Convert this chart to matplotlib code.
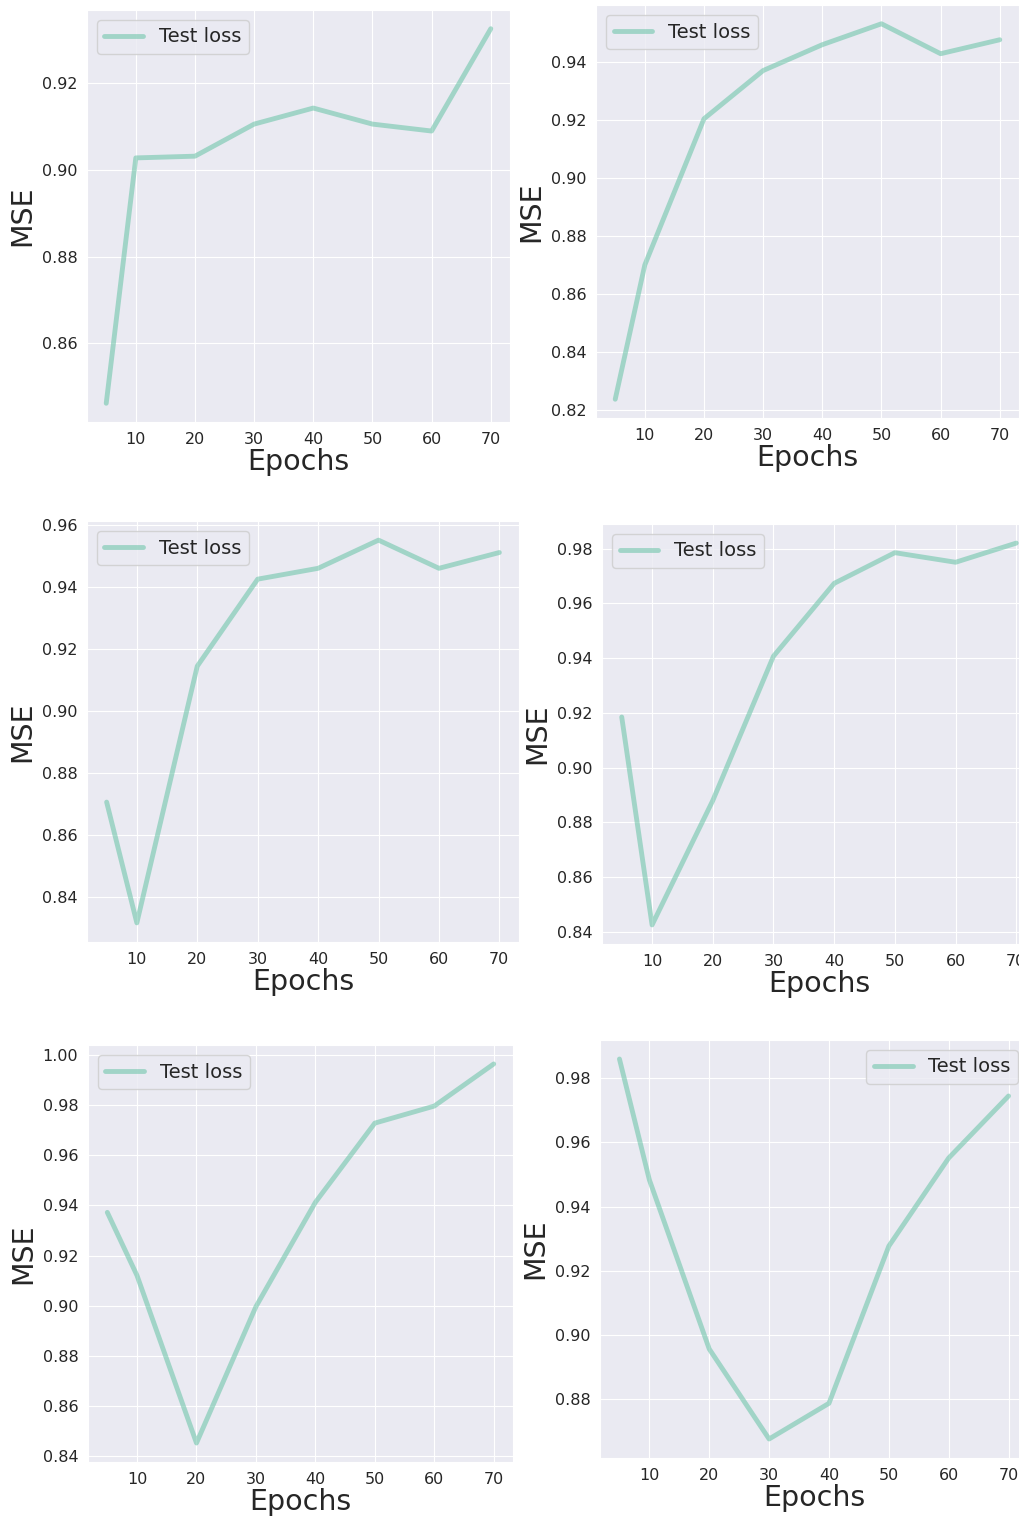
import matplotlib
matplotlib.use("Agg")
import matplotlib.pyplot as plt
import seaborn as sns

sns.set_style("darkgrid")
plt.rcParams['font.family'] = ['DejaVu Sans']

epochs = [5, 10, 20, 30, 40, 50, 60, 70]

loss_a = [0.8462, 0.9028, 0.9032, 0.9106, 0.9143, 0.9106, 0.9090, 0.9326]
loss_b = [0.8238, 0.8700, 0.9203, 0.9369, 0.9458, 0.9530, 0.9427, 0.9475]
loss_c = [0.8706, 0.8316, 0.9145, 0.9426, 0.9461, 0.9552, 0.9461, 0.9512]
loss_d = [0.9185, 0.8426, 0.8880, 0.9407, 0.9673, 0.9785, 0.9750, 0.9820]
loss_e = [0.9372, 0.9120, 0.8452, 0.8996, 0.9412, 0.9728, 0.9796, 0.9964]
loss_f = [0.9859, 0.9483, 0.8957, 0.8677, 0.8788, 0.9277, 0.9551, 0.9744]

W, H = 1020, 1517
# axes boxes in pixels: left, top, right, bottom
boxes = [
    (87, 10, 510, 422),
    (596, 5, 1019, 418),
    (87, 521, 519, 942),
    (602, 524, 1036, 944),
    (88, 1045, 513, 1462),
    (600, 1040, 1028, 1458),
]
series = [loss_a, loss_b, loss_c, loss_d, loss_e, loss_f]
legend_loc = ['upper left'] * 5 + ['upper right']

fig = plt.figure(figsize=(W / 100, H / 100), dpi=100)

for box, loss, loc in zip(boxes, series, legend_loc):
    l, t, r, b = box
    ax = fig.add_axes([l / W, 1 - b / H, (r - l) / W, (b - t) / H])
    ax.plot(epochs, loss, color='#66c2a5', alpha=0.55, linewidth=3.5,
            label='Test loss')
    ax.set_xticks([10, 20, 30, 40, 50, 60, 70])
    ax.tick_params(labelsize=11.5, colors='#262626')
    ax.set_xlabel('Epochs', fontsize=20.5, color='#262626', labelpad=1)
    ax.set_ylabel('MSE', fontsize=20.5, color='#262626')
    ax.legend(loc=loc, fontsize=14)

fig.savefig('out.png', dpi=100)
